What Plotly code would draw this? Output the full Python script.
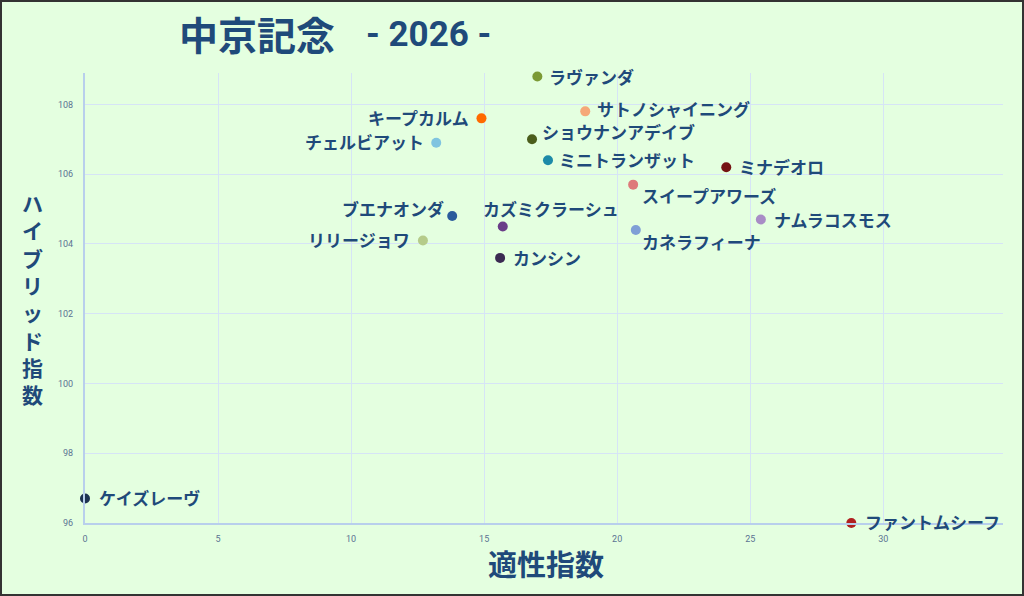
import plotly.graph_objects as go

# 適性指数 (x) / ハイブリッド指数 (y)
horses = [
    "ラヴァンダ", "サトノシャイニング", "キープカルム", "ショウナンアデイブ",
    "チェルビアット", "ミニトランザット", "ミナデオロ", "スイープアワーズ",
    "ナムラコスモス", "ブエナオンダ", "カズミクラーシュ", "カネラフィーナ",
    "リリージョワ", "カンシン", "ケイズレーヴ", "ファントムシーフ",
]
aptitude = [17.0, 18.8, 14.9, 16.8, 13.2, 17.4, 24.1, 20.6,
            25.4, 13.8, 15.7, 20.7, 12.7, 15.6, 0.0, 28.8]
hybrid = [108.8, 107.8, 107.6, 107.0, 106.9, 106.4, 106.2, 105.7,
          104.7, 104.8, 104.5, 104.4, 104.1, 103.6, 96.7, 96.0]
colors = ["#7b9a35", "#f5a878", "#ff6a00", "#4b5e1c", "#80c4e0", "#1c8aa8",
          "#751313", "#de7a7a", "#a88cc6", "#2b5c9c", "#6a3d88", "#7f9fd6",
          "#b5cb8a", "#3b2a52", "#1d3352", "#b02020"]

x_ticks = [0, 5, 10, 15, 20, 25, 30]
y_ticks = [96, 98, 100, 102, 104, 106, 108]

# label placement: (anchor, xshift, yshift) in px
label_pos = [
    ("left", 10, 0), ("left", 10, 3), ("right", -10, 1), ("left", 8, 8),
    ("right", -10, 1), ("left", 9, 1), ("left", 11, 1), ("left", 7, -11),
    ("left", 11, 0), ("right", -6, 8), ("left", -22, 18), ("left", 4, -12),
    ("right", -11, 1), ("left", 11, 0), ("left", 12, 1), ("left", 12, 2),
]

NAVY = "#1f4a7a"
BG = "#e4ffe0"
NARROW = "Roboto, sans-serif"
W, H = 1024, 596
L, R, T, B = 85, 21, 73, 73
PW, PH = W - L - R, H - T - B


def px_x(px):
    return (px - L) / PW


def px_y(py):
    return (H - B - py) / PH


fig = go.Figure()
fig.add_trace(go.Scatter(
    x=aptitude, y=hybrid,
    mode="markers",
    marker=dict(size=10, color=colors, line=dict(width=0)),
    cliponaxis=False,
    hoverinfo="text", text=horses,
    showlegend=False,
))

annotations = []
for name, xv, yv, (anchor, dx, dy) in zip(horses, aptitude, hybrid, label_pos):
    annotations.append(dict(
        x=xv, y=yv, text=name, showarrow=False,
        xanchor=anchor, yanchor="middle", xshift=dx, yshift=dy,
        font=dict(family="Noto Sans CJK JP", size=17, color=NAVY, weight="bold"),
    ))

# title
annotations.append(dict(
    x=px_x(177), y=px_y(33), xref="paper", yref="paper",
    text="中京記念", showarrow=False, xanchor="left", yanchor="middle",
    font=dict(family="Noto Sans CJK JP", size=39, color=NAVY, weight="bold"),
))
annotations.append(dict(
    x=px_x(364), y=px_y(34), xref="paper", yref="paper",
    text="- 2026 -", showarrow=False, xanchor="left", yanchor="middle",
    font=dict(family=NARROW, size=35, color=NAVY, weight="bold"),
))

# x axis title
annotations.append(dict(
    x=px_x(546), y=px_y(563), xref="paper", yref="paper",
    text="適性指数", showarrow=False, xanchor="center", yanchor="middle",
    font=dict(family="Noto Sans CJK JP", size=29, color=NAVY, weight="bold"),
))

# y axis title, stacked vertically
annotations.append(dict(
    x=px_x(32), y=px_y(298), xref="paper", yref="paper",
    text="<br>".join("ハイブリッド指数"), showarrow=False,
    xanchor="center", yanchor="middle",
    font=dict(family="Noto Sans CJK JP", size=21, color=NAVY, weight="bold"),
))

fig.update_layout(
    width=W, height=H,
    margin=dict(l=L, r=R, t=T, b=B),
    paper_bgcolor=BG, plot_bgcolor=BG,
    annotations=annotations,
    shapes=[dict(
        type="rect", xref="paper", yref="paper",
        x0=px_x(1), x1=px_x(W - 1), y0=px_y(H - 1), y1=px_y(1),
        line=dict(color="#333333", width=2), layer="above",
    )],
    xaxis=dict(
        range=[0, 34.5], tickvals=x_ticks, showgrid=True, gridcolor="#d6e4f6",
        zeroline=False, showline=True, linecolor="#b8cfec", linewidth=2,
        ticks="", ticklabelstandoff=6,
        tickfont=dict(family=NARROW, size=9, color="#5b7393"),
    ),
    yaxis=dict(
        range=[96, 108.9], tickvals=y_ticks, showgrid=True, gridcolor="#d6e4f6",
        zeroline=False, showline=True, linecolor="#b8cfec", linewidth=2,
        ticks="", ticklabelstandoff=8,
        tickfont=dict(family=NARROW, size=9, color="#5b7393"),
    ),
)

fig.write_html(
    "out.html",
    config={"displayModeBar": False},
    post_script="document.body.style.margin='0';document.body.style.overflow='hidden';",
)
